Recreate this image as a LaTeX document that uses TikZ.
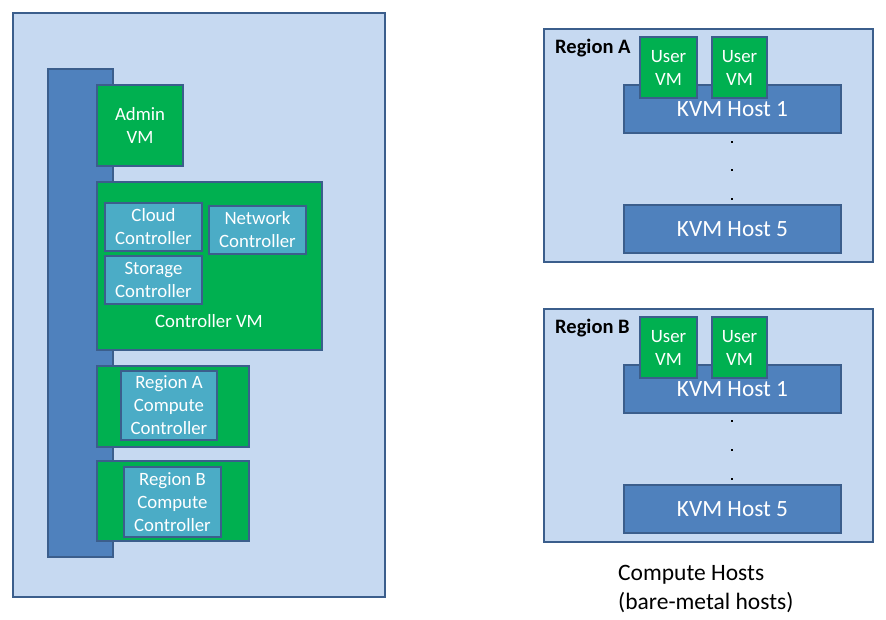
\documentclass[tikz,border=0pt]{standalone}
\usepackage{fontspec}
\setmainfont{Carlito}
\definecolor{lightbg}{HTML}{C6D9F1}
\definecolor{bordercol}{HTML}{3B5E8C}
\definecolor{barblue}{HTML}{4F81BD}
\definecolor{vmgreen}{HTML}{00B050}
\definecolor{tealc}{HTML}{4BACC6}
\tikzset{
  boxbase/.style={draw=bordercol, line width=2.6pt, inner sep=0pt, outer sep=0pt, anchor=north west, align=center},
  frame/.style={boxbase, fill=lightbg},
  barbox/.style={boxbase, fill=barblue},
  vmbox/.style={boxbase, fill=vmgreen, text=white, font=\fontsize{18.8}{23}\selectfont},
  ctlbox/.style={boxbase, fill=tealc, text=white, font=\fontsize{18.8}{23}\selectfont},
  hostbox/.style={boxbase, fill=barblue, text=white, font=\fontsize{23.3}{28}\selectfont},
  lbl/.style={inner sep=0pt, text=white, font=\fontsize{18.8}{23}\selectfont},
  regionlbl/.style={inner sep=0pt, anchor=west, font=\fontsize{20.5}{24}\selectfont\bfseries},
  dotlbl/.style={rectangle, fill=black, inner sep=0pt, minimum size=2.6pt},
  caption/.style={inner sep=0pt, anchor=north west, align=left, font=\fontsize{23.5}{29}\selectfont}
}
\begin{document}
\begin{tikzpicture}[x=1pt, y=-1pt]
\useasboundingbox (0,0) rectangle (886,619);
% left panel
\node[frame, minimum width=372pt, minimum height=584pt] (left) at (13,13) {};
\node[barbox, minimum width=65pt, minimum height=488pt] (bar) at (48,69) {};
\node[vmbox, minimum width=86pt, minimum height=81pt] (admin) at (97,85) {Admin\\VM};
\node[vmbox, minimum width=225pt, minimum height=168pt] (ctlvm) at (97,182) {};
\node[ctlbox, minimum width=97pt, minimum height=48pt] (cloud) at (105,203) {Cloud\\Controller};
\node[ctlbox, minimum width=97pt, minimum height=48pt] (network) at (209,206) {Network\\Controller};
\node[ctlbox, minimum width=97pt, minimum height=48pt] (storage) at (105,256) {Storage\\Controller};
\node[lbl] (ctlvmlbl) at (209,321) {Controller VM};
\node[vmbox, minimum width=152pt, minimum height=81pt] (rega) at (97,366) {};
\node[ctlbox, minimum width=96pt, minimum height=69pt] (regactl) at (121,371) {Region A\\Compute\\Controller};
\node[vmbox, minimum width=152pt, minimum height=80pt] (regb) at (97,461) {};
\node[ctlbox, minimum width=97pt, minimum height=70pt] (regbctl) at (124,467) {Region B\\Compute\\Controller};
% region A
\node[frame, minimum width=329pt, minimum height=233pt] (ra) at (544,29) {};
\node[regionlbl] (ralbl) at (555,48) {Region A};
\node[hostbox, minimum width=217pt, minimum height=48pt] (ra1) at (624,85) {KVM Host 1};
\node[vmbox, minimum width=57pt, minimum height=61pt] (rau1) at (640,37) {User\\VM};
\node[vmbox, minimum width=55pt, minimum height=61pt] (rau2) at (712,37) {User\\VM};
\node[dotlbl] (rad1) at (732,142) {};
\node[dotlbl] (rad2) at (732,170) {};
\node[dotlbl] (rad3) at (732,199) {};
\node[hostbox, minimum width=217pt, minimum height=48pt] (ra5) at (624,205) {KVM Host 5};
% region B
\node[frame, minimum width=329pt, minimum height=233pt] (rb) at (544,309) {};
\node[regionlbl] (rblbl) at (555,328) {Region B};
\node[hostbox, minimum width=217pt, minimum height=48pt] (rb1) at (624,365) {KVM Host 1};
\node[vmbox, minimum width=57pt, minimum height=61pt] (rbu1) at (640,317) {User\\VM};
\node[vmbox, minimum width=55pt, minimum height=61pt] (rbu2) at (712,317) {User\\VM};
\node[dotlbl] (rbd1) at (732,421) {};
\node[dotlbl] (rbd2) at (732,450) {};
\node[dotlbl] (rbd3) at (732,479) {};
\node[hostbox, minimum width=217pt, minimum height=48pt] (rb5) at (624,485) {KVM Host 5};
% caption
\node[caption] (cap) at (618,565) {Compute Hosts\\(bare-metal hosts)};
\end{tikzpicture}
\end{document}
